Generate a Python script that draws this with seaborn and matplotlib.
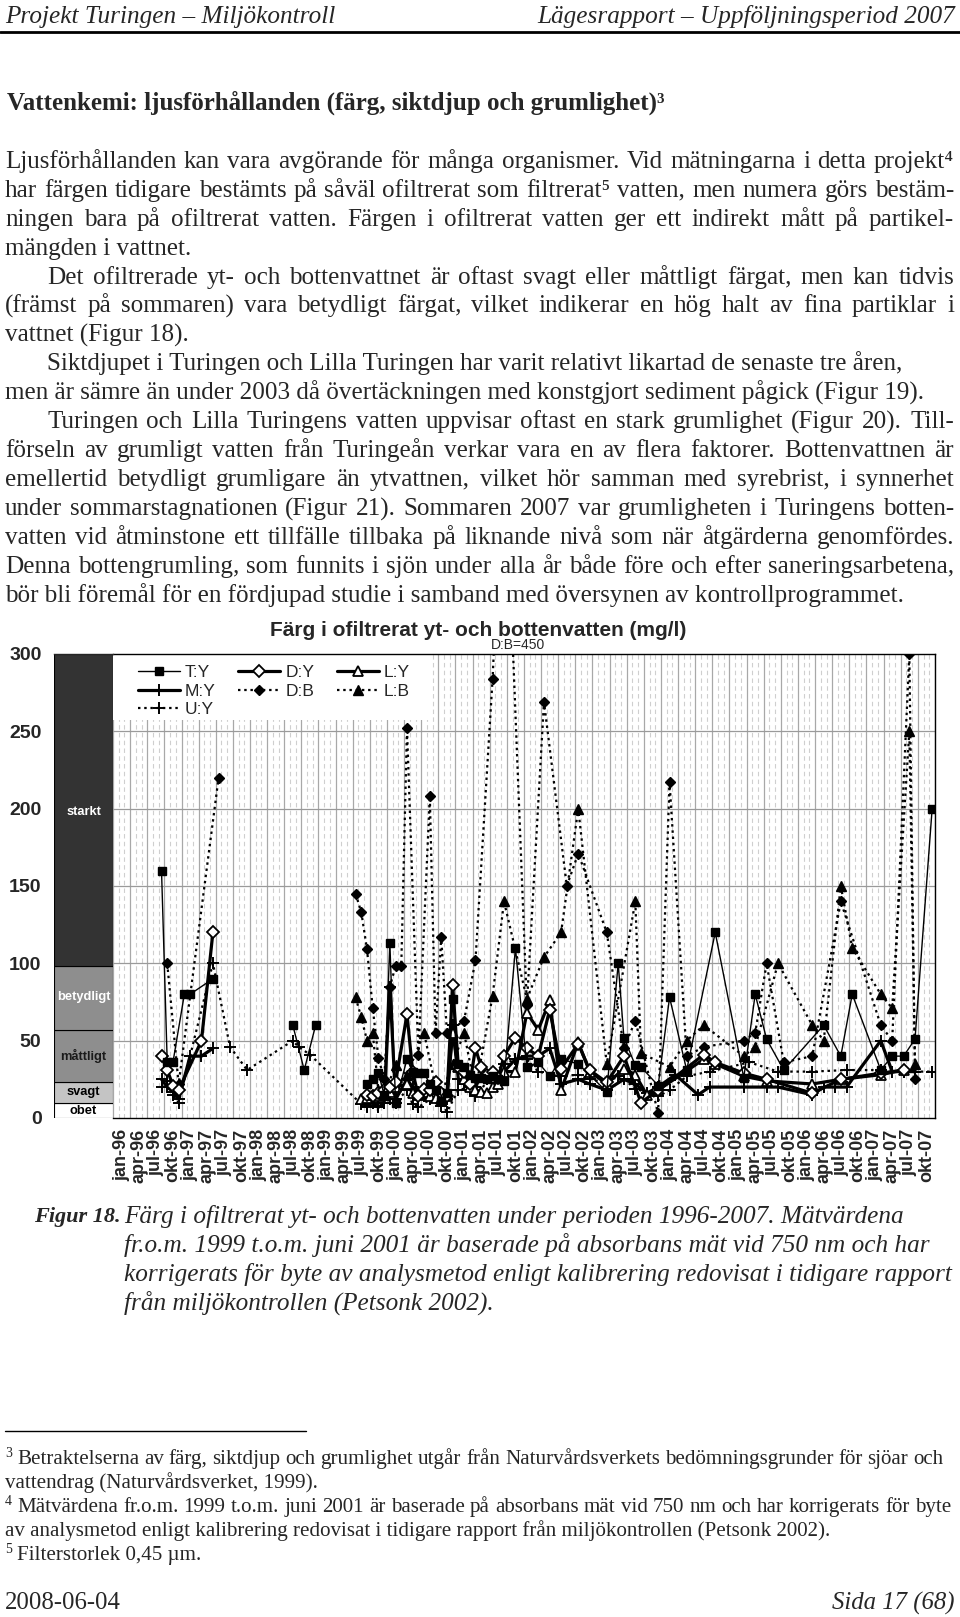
import numpy as np
import pandas as pd
import matplotlib.pyplot as plt
import seaborn as sns
from matplotlib.lines import Line2D
from matplotlib.patches import Rectangle

nan = np.nan

# ---- chart data (colour, mg/l); nan = break in the line ----
TY_MONTHS = ['1996-09', '1996-10', '1996-11', '1997-01', '1997-02', '1997-06', '1998-01', '1998-08', '1998-10',
             '1998-12', '1999-01', '1999-09', '1999-10', '1999-11', '1999-12', '2000-01', '2000-02', '2000-04',
             '2000-05', '2000-06', '2000-07', '2000-08', '2000-09', '2000-10', '2000-11', '2000-12', '2001-01',
             '2001-02', '2001-03', '2001-04', '2001-05', '2001-06', '2001-07', '2001-08', '2001-09', '2001-11',
             '2002-01', '2002-03', '2002-05', '2002-07', '2002-10', '2003-03', '2003-05', '2003-06', '2003-08',
             '2003-09', '2003-12', '2004-02', '2004-05', '2004-10', '2005-03', '2005-05', '2005-07', '2005-10',
             '2006-05', '2006-08', '2006-10', '2007-03', '2007-05', '2007-07', '2007-09', '2007-12']
TY_VALS = [160, 36, 36, 80, 80, 90, nan, 60, 31, 60, nan, 22, 25, 29, 15, 113, 10, 38, 30, 29, 29, 22, 18, 11,
           16, 77, 35, 33, 28, 26, 26, 25, 27, 25, 24, 110, 33, 36, 27, 38, 35, 17, 100, 52, 34, 33, 21, 78, 31,
           120, 26, 80, 51, 31, 60, 40, 80, 31, 40, 40, 51, 200]

DY_MONTHS = ['1996-09', '1996-10', '1996-11', '1996-12', '1997-04', '1997-06', '1998-01', '1999-09', '1999-10',
             '1999-11', '1999-12', '2000-01', '2000-02', '2000-04', '2000-05', '2000-06', '2000-07', '2000-08',
             '2000-09', '2000-10', '2000-11', '2000-12', '2001-01', '2001-02', '2001-03', '2001-04', '2001-05',
             '2001-06', '2001-07', '2001-08', '2001-09', '2001-11', '2002-01', '2002-03', '2002-05', '2002-07',
             '2002-10', '2002-12', '2003-03', '2003-06', '2003-09', '2003-12', '2004-08', '2004-10', '2005-03',
             '2005-07', '2006-03', '2006-08', '2007-03', '2007-07']
DY_VALS = [40, 31, 21, 18, 50, 120, nan, 15, 14, 16, 18, 20, 23, 67, 30, 14, 19, 18, 23, 16, 14, 86, 33, 30,
           22, 45, 33, 28, 30, 26, 40, 52, 45, 40, 70, 32, 48, 31, 23, 40, 10, 18, 41, 36, 29, 25, 16, 25, 29, 31]

LY_MONTHS = ['1999-08', '1999-09', '1999-10', '1999-11', '1999-12', '2000-01', '2000-02', '2000-04', '2000-05',
             '2000-06', '2000-07', '2000-08', '2000-09', '2000-10', '2000-11', '2000-12', '2001-01', '2001-02',
             '2001-03', '2001-04', '2001-05', '2001-06', '2001-07', '2001-08', '2001-09', '2001-11', '2002-01',
             '2002-03', '2002-05', '2002-07', '2002-10', '2002-12', '2003-03', '2003-06', '2003-08', '2003-10',
             '2003-12', '2004-08', '2004-10', '2005-03', '2005-07', '2006-03', '2006-08', '2007-03', '2007-07']
LY_VALS = [12, 13, 15, 14, 15, 17, 20, 22, 16, 15, 17, 14, 13, 12, 14, 55, 33, 25, 20, 18, 17, 16, 20, 22,
           30, 30, 68, 57, 76, 18, 49, 30, 22, 32, 28, 15, 18, 38, 35, 27, 24, 22, 25, 28, 31]

MY_MONTHS = ['1996-09', '1996-10', '1996-11', '1996-12', '1997-02', '1997-04', '1997-06', '1998-01', '1999-09',
             '1999-10', '1999-11', '1999-12', '2000-01', '2000-02', '2000-04', '2000-05', '2000-06', '2000-07',
             '2000-08', '2000-09', '2000-10', '2000-11', '2000-12', '2001-01', '2001-02', '2001-03', '2001-04',
             '2001-05', '2001-06', '2001-07', '2001-09', '2001-11', '2002-01', '2002-03', '2002-05', '2002-07',
             '2002-10', '2002-12', '2003-03', '2003-06', '2003-08', '2003-10', '2003-12', '2004-03', '2004-07',
             '2004-09', '2005-03', '2005-07', '2005-09', '2006-03', '2006-05', '2006-07', '2006-09', '2007-03',
             '2007-05', '2007-07', '2007-09']
MY_VALS = [25, 20, 17, 12, 40, 40, 45, nan, 8, 10, 7, 10, 85, 12, 25, 20, 15, 14, 12, 13, 8, 12, 60, 25, 22,
           18, 20, 28, 25, 28, 30, 38, 40, 40, 45, 22, 25, 22, 18, 25, 22, 16, 20, 28, 15, 20, 20, 20, 20, 15,
           20, 20, 20, 50, 30, 30, 30]

UY_MONTHS = ['1996-09', '1996-10', '1996-11', '1996-12', '1997-06', '1997-09', '1997-12', '1998-08', '1998-09',
             '1998-11', '1999-08', '1999-09', '1999-11', '1999-12', '2000-01', '2000-02', '2000-04', '2000-05',
             '2000-06', '2000-08', '2000-10', '2000-11', '2001-01', '2001-03', '2001-04', '2001-07', '2001-09',
             '2001-11', '2002-01', '2002-03', '2002-07', '2002-10', '2002-12', '2003-03', '2003-05', '2003-06',
             '2003-08', '2003-12', '2004-02', '2004-05', '2004-09', '2005-04', '2005-09', '2006-03', '2006-09',
             '2007-03', '2007-07', '2007-09', '2007-12']
UY_VALS = [20, 24, 15, 10, 100, 46, 31, 50, 46, 41, 9, 7, 8, 10, 12, 10, 18, 9, 7, 12, 10, 4, 18, 20, 14, 28,
           35, 38, 38, 30, 27, 28, 25, 23, 27, 25, 19, 14, 18, 27, 30, 36, 30, 30, 31, 31, 30, 30, 30]

DB_MONTHS = ['1996-10', '1996-12', '1997-07', '1998-01', '1999-07', '1999-08', '1999-09', '1999-10', '1999-11',
             '1999-12', '2000-01', '2000-02', '2000-03', '2000-04', '2000-06', '2000-08', '2000-09', '2000-10',
             '2000-11', '2001-02', '2001-04', '2001-07', '2001-09', '2002-01', '2002-04', '2002-08', '2002-10',
             '2003-03', '2003-06', '2003-08', '2003-12', '2004-02', '2004-05', '2004-08', '2005-03', '2005-05',
             '2005-07', '2005-10', '2006-03', '2006-08', '2007-03', '2007-05', '2007-08', '2007-09']
DB_VALS = [100, 22, 220, nan, 145, 133, 109, 71, 39, 25, 85, 98, 98, 252, 41, 208, 55, 117, 55, 63, 102, 284,
           450, 73, 269, 150, 171, 120, 45, 63, 3, 217, 40, 46, 50, 55, 100, 36, 40, 140, 60, 50, 300, 25]

LB_MONTHS = ['1999-07', '1999-08', '1999-09', '1999-10', '1999-11', '1999-12', '2000-02', '2000-04', '2000-07',
             '2000-09', '2000-10', '2000-12', '2001-02', '2001-04', '2001-07', '2001-09', '2002-01', '2002-04',
             '2002-07', '2002-10', '2003-03', '2003-08', '2003-09', '2004-02', '2004-05', '2004-08', '2005-03',
             '2005-05', '2005-09', '2006-03', '2006-05', '2006-08', '2006-10', '2007-03', '2007-05', '2007-08',
             '2007-09']
LB_VALS = [78, 65, 50, 55, 18, 15, 34, 28, 55, 20, 15, 35, 55, 18, 79, 140, 77, 104, 120, 200, 35, 140, 42,
           33, 50, 60, 40, 46, 100, 60, 50, 150, 110, 80, 71, 250, 35]

CLASS_NAMES = ['obet', 'svagt', 'måttligt', 'betydligt', 'starkt']
CLASS_EDGES = [0, 10, 23, 57, 98, 300]
QUARTERS = ['jan', 'apr', 'jul', 'okt']
YEARS = list(range(1996, 2008))

# ---- page setup ----
W, H = 960, 1617
sns.set_style('white')
SERIF = ['Liberation Serif', 'DejaVu Serif']
SANS = ['Liberation Sans', 'DejaVu Sans']
plt.rcParams['font.family'] = SERIF

fig = plt.figure(figsize=(W / 100, H / 100), dpi=100)
fig.patch.set_facecolor('white')
renderer = fig.canvas.get_renderer()


def fy(y):
    return 1 - y / H


def put(x, y, s, size=12, **kw):
    # y is the visual middle of the line, text sits on its baseline
    kw.setdefault('family', SERIF)
    base = y + 0.33 * size * 100 / 72
    return fig.text(x / W, fy(base), s, size=size, va='baseline', **kw)


def justify(x0, x1, y, s, size=12, **kw):
    words = s.split(' ')
    objs = [put(0, y, w, size=size, **kw) for w in words]
    for _ in range(15):
        widths = [o.get_window_extent(renderer).width for o in objs]
        gap = (x1 - x0 - sum(widths)) / max(len(words) - 1, 1)
        if gap >= 0.2 * size * 100 / 72:
            break
        size *= 0.985
        for o in objs:
            o.set_fontsize(size)
    x = x0
    for o, w in zip(objs, widths):
        o.set_x(x / W)
        x += w + gap


# header
put(5, 15, 'Projekt Turingen \u2013 Miljökontroll', style='italic', size=18.2)
put(955, 15, 'Lägesrapport \u2013 Uppföljningsperiod 2007', style='italic', size=18.2, ha='right')
fig.add_artist(Line2D([0, 1], [fy(32), fy(32)], color='black', lw=2.0))

put(7, 101, 'Vattenkemi: ljusförhållanden (färg, siktdjup och grumlighet)³', weight='bold', size=18)

BODY = 18.1
body = [
    (5, 160, 'Ljusförhållanden kan vara avgörande för många organismer. Vid mätningarna i detta projekt⁴', True),
    (5, 189, 'har färgen tidigare bestämts på såväl ofiltrerat som filtrerat⁵ vatten, men numera görs bestäm-', True),
    (5, 218, 'ningen bara på ofiltrerat vatten. Färgen i ofiltrerat vatten ger ett indirekt mått på partikel-', True),
    (5, 247, 'mängden i vattnet.', False),
    (47, 276, 'Det ofiltrerade yt- och bottenvattnet är oftast svagt eller måttligt färgat, men kan tidvis', True),
    (5, 304, '(främst på sommaren) vara betydligt färgat, vilket indikerar en hög halt av fina partiklar i', True),
    (5, 333, 'vattnet (Figur 18).', False),
    (47, 362, 'Siktdjupet i Turingen och Lilla Turingen har varit relativt likartad de senaste tre åren,', False),
    (5, 391, 'men är sämre än under 2003 då övertäckningen med konstgjort sediment pågick (Figur 19).', False),
    (47, 420, 'Turingen och Lilla Turingens vatten uppvisar oftast en stark grumlighet (Figur 20). Till-', True),
    (5, 449, 'förseln av grumligt vatten från Turingeån verkar vara en av flera faktorer. Bottenvattnen är', True),
    (5, 478, 'emellertid betydligt grumligare än ytvattnen, vilket hör samman med syrebrist, i synnerhet', True),
    (5, 507, 'under sommarstagnationen (Figur 21). Sommaren 2007 var grumligheten i Turingens botten-', True),
    (5, 536, 'vatten vid åtminstone ett tillfälle tillbaka på liknande nivå som när åtgärderna genomfördes.', True),
    (5, 565, 'Denna bottengrumling, som funnits i sjön under alla år både före och efter saneringsarbetena,', True),
    (5, 594, 'bör bli föremål för en fördjupad studie i samband med översynen av kontrollprogrammet.', False),
]
for x0, y, s, just in body:
    if just:
        justify(x0, 954, y, s, size=BODY)
    else:
        put(x0, y, s, size=BODY)

# ---- chart ----
ax = fig.add_axes([113 / W, fy(1118), 822 / W, 464 / H])
axb = fig.add_axes([54 / W, fy(1118), 59 / W, 464 / H])


def month_idx(s):
    y, m = s.split('-')
    return (int(y) - 1996) * 12 + int(m) - 1


def draw(months, vals, **kw):
    df = pd.DataFrame({'m': [month_idx(s) for s in months], 'v': vals})
    seg = df['v'].isna().cumsum()
    ok = df['v'].notna()
    for _, part in df[ok].groupby(seg[ok]):
        sns.lineplot(data=part, x='m', y='v', ax=ax, sort=False, estimator=None, legend=False,
                     color='black', markeredgecolor='black', **kw)


# grid
for k in range(145):
    if k % 3 == 0:
        ax.axvline(k - 0.5, color='#a8a8a8', lw=0.9, zorder=0)
    else:
        ax.axvline(k - 0.5, color='#cfcfcf', lw=0.8, ls=(0, (4, 3)), zorder=0)
for yv in range(50, 300, 50):
    ax.axhline(yv, color='#9a9a9a', lw=0.9, zorder=0)
ax.add_patch(Rectangle((0, 0.858), 0.386, 0.142, transform=ax.transAxes, facecolor='white',
                       edgecolor='none', zorder=1))

thick = 2.3
dot = (0, (1.1, 1.7))
styles = {
    'T:Y': dict(linewidth=1.0, linestyle='-', marker='s', markersize=5.5, markerfacecolor='black',
                markeredgewidth=1.0),
    'D:Y': dict(linewidth=thick, linestyle='-', marker='D', markersize=6, markerfacecolor='white',
                markeredgewidth=1.3),
    'L:Y': dict(linewidth=thick, linestyle='-', marker='^', markersize=7, markerfacecolor='white',
                markeredgewidth=1.3),
    'M:Y': dict(linewidth=thick, linestyle='-', marker='+', markersize=9, markerfacecolor='black',
                markeredgewidth=1.4),
    'D:B': dict(linewidth=1.6, linestyle=dot, marker='D', markersize=5.5, markerfacecolor='black',
                markeredgewidth=1.0),
    'L:B': dict(linewidth=1.6, linestyle=dot, marker='^', markersize=7, markerfacecolor='black',
                markeredgewidth=1.0),
    'U:Y': dict(linewidth=1.6, linestyle=dot, marker='+', markersize=9, markerfacecolor='black',
                markeredgewidth=1.4),
}
series = {
    'T:Y': (TY_MONTHS, TY_VALS), 'D:Y': (DY_MONTHS, DY_VALS), 'L:Y': (LY_MONTHS, LY_VALS),
    'M:Y': (MY_MONTHS, MY_VALS), 'D:B': (DB_MONTHS, DB_VALS), 'L:B': (LB_MONTHS, LB_VALS),
    'U:Y': (UY_MONTHS, UY_VALS),
}
for name in ['U:Y', 'L:B', 'D:B', 'M:Y', 'L:Y', 'D:Y', 'T:Y']:
    months, vals = series[name]
    draw(months, vals, zorder=3, **styles[name])

handles = []
for name in ['T:Y', 'M:Y', 'U:Y', 'D:Y', 'D:B', 'L:Y', 'L:B']:
    st = styles[name]
    handles.append(Line2D([], [], color='black', markeredgecolor='black', lw=st['linewidth'],
                          ls=st['linestyle'], marker=st['marker'], ms=st['markersize'],
                          mfc=st['markerfacecolor'], mew=st['markeredgewidth'], label=name))
ax.legend(handles=handles, ncol=3, loc='upper left', bbox_to_anchor=(0.02, 0.995), frameon=False,
          prop={'family': SANS, 'size': 12.5}, handlelength=2.4, handletextpad=0.3, columnspacing=1.3,
          labelspacing=0.2, borderaxespad=0.1)

ax.set_xlim(-0.5, 143.5)
ax.set_ylim(0, 300)
ax.set_yticks([])
ax.set_xlabel('')
ax.set_ylabel('')
ax.set_xticks([3 * k + 1 for k in range(48)])
ax.set_xticklabels([f'{QUARTERS[k % 4]}-{str(YEARS[k // 4])[2:]}' for k in range(48)], rotation=90,
                   fontsize=13, fontweight='bold', family=SANS)
ax.set_xticks(np.arange(-0.5, 144, 1), minor=True)
ax.tick_params(axis='x', which='major', length=0, pad=8)
ax.tick_params(axis='x', which='minor', length=4, width=0.8, direction='out', color='#555555')
for side in ['top', 'right', 'bottom']:
    ax.spines[side].set_color('black')
    ax.spines[side].set_linewidth(1.0)
    ax.spines[side].set_visible(True)
ax.spines['left'].set_visible(False)
ax.text(70.5, 301, 'D:B=450', ha='center', va='bottom', fontsize=10, family=SANS, clip_on=False)

# classification band
band_face = ['white', '#c4c4c4', '#8e8e8e', '#8e8e8e', '#333333']
band_text = ['black', 'black', '#1a1a1a', 'white', 'white']
band_ypos = [4.5, 17, 40, 78, 198]
for name, lo, hi, fc, tc, yt in zip(CLASS_NAMES, CLASS_EDGES[:-1], CLASS_EDGES[1:], band_face, band_text,
                                      band_ypos):
    axb.add_patch(Rectangle((0, lo), 1, hi - lo, facecolor=fc, edgecolor='black', lw=0.8))
    axb.text(0.5, yt, name, ha='center', va='center', color=tc, fontsize=9.3, fontweight='bold', family=SANS)
axb.set_xlim(0, 1)
axb.set_ylim(0, 300)
axb.set_xticks([])
axb.set_yticks(range(0, 301, 50))
axb.set_yticklabels([str(v) for v in range(0, 301, 50)], fontsize=14, fontweight='bold', family=SANS)
axb.tick_params(axis='y', length=0, pad=9)
for side in axb.spines:
    axb.spines[side].set_visible(side == 'top')
axb.spines['top'].set_linewidth(1.0)

fig.text(478 / W, fy(630), 'Färg i ofiltrerat yt- och bottenvatten (mg/l)', family=SANS, weight='bold',
         size=15, ha='center', va='center')

# ---- caption ----
CAP = 18.2
put(34, 1215, 'Figur 18.', style='italic', weight='bold', size=16)
cap_lines = [
    'Färg i ofiltrerat yt- och bottenvatten under perioden 1996-2007. Mätvärdena',
    'fr.o.m. 1999 t.o.m. juni 2001 är baserade på absorbans mät vid 750 nm och har',
    'korrigerats för byte av analysmetod enligt kalibrering redovisat i tidigare rapport',
    'från miljökontrollen (Petsonk 2002).',
]
for i, s in enumerate(cap_lines):
    put(124, 1215 + 28.9 * i, s, style='italic', size=CAP)

# ---- footnotes ----
fig.add_artist(Line2D([5 / W, 306 / W], [fy(1431), fy(1431)], color='black', lw=1.0))
FN = 15.1
put(5, 1452, '3', size=10)
justify(17, 943, 1457, 'Betraktelserna av färg, siktdjup och grumlighet utgår från Naturvårdsverkets bedömningsgrunder för sjöar och', size=FN)
put(5, 1481, 'vattendrag (Naturvårdsverket, 1999).', size=FN)
put(5, 1500, '4', size=10)
justify(17, 951, 1505, 'Mätvärdena fr.o.m. 1999 t.o.m. juni 2001 är baserade på absorbans mät vid 750 nm och har korrigerats för byte', size=FN)
put(5, 1529, 'av analysmetod enligt kalibrering redovisat i tidigare rapport från miljökontrollen (Petsonk 2002).', size=FN)
put(5, 1548, '5', size=10)
put(17, 1553, 'Filterstorlek 0,45 µm.', size=FN)

# ---- footer ----
put(5, 1601, '2008-06-04', size=17.8)
put(955, 1601, 'Sida 17 (68)', style='italic', size=17.8, ha='right')

fig.savefig('out.png', dpi=100, facecolor='white')
